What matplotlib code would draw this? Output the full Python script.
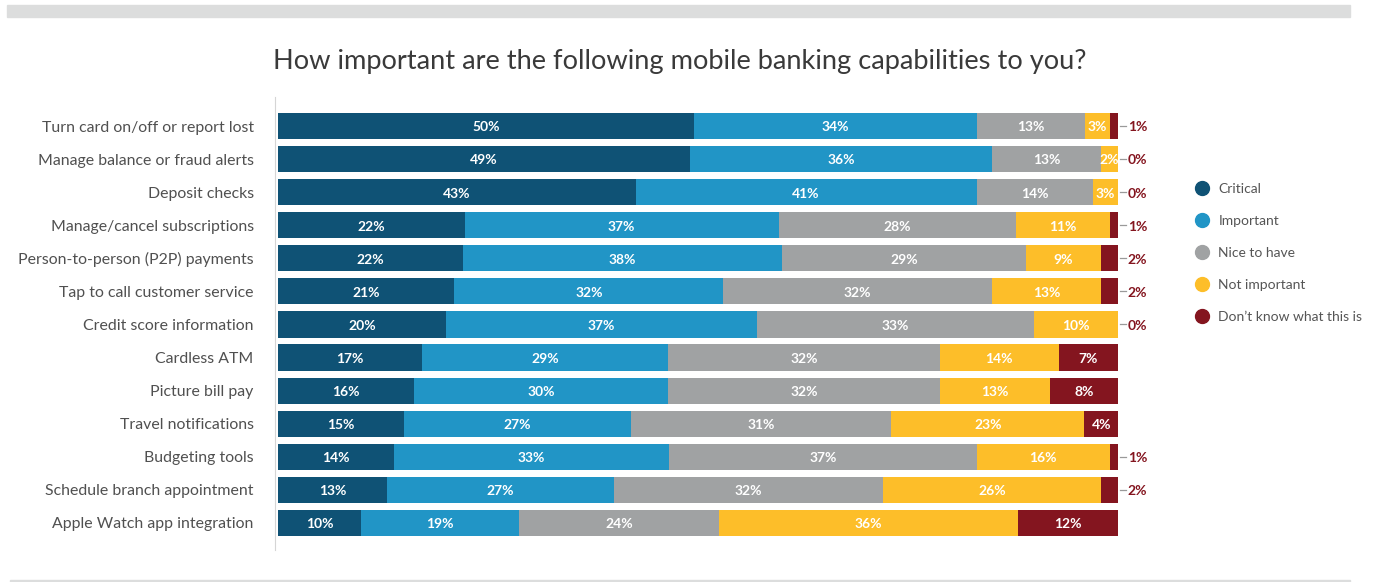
import matplotlib
matplotlib.use("Agg")
import matplotlib.pyplot as plt
from matplotlib.patches import Rectangle
from matplotlib.lines import Line2D
import numpy as np

features = [
    "Turn card on/off or report lost",
    "Manage balance or fraud alerts",
    "Deposit checks",
    "Manage/cancel subscriptions",
    "Person-to-person (P2P) payments",
    "Tap to call customer service",
    "Credit score information",
    "Cardless ATM",
    "Picture bill pay",
    "Travel notifications",
    "Budgeting tools",
    "Schedule branch appointment",
    "Apple Watch app integration",
]
critical      = [50, 49, 43, 22, 22, 21, 20, 17, 16, 15, 14, 13, 10]
important     = [34, 36, 41, 37, 38, 32, 37, 29, 30, 27, 33, 27, 19]
nice_to_have  = [13, 13, 14, 28, 29, 32, 33, 32, 32, 31, 37, 32, 24]
not_important = [3, 2, 3, 11, 9, 13, 10, 14, 13, 23, 16, 26, 36]
dont_know     = [1, 0, 0, 1, 2, 2, 0, 7, 8, 4, 1, 2, 12]

series_names = ["Critical", "Important", "Nice to have", "Not important",
                "Don\u2019t know what this is"]
colors = ["#0F5275", "#2195C6", "#A0A2A3", "#FDBE29", "#84151F"]

series = np.array([critical, important, nice_to_have, not_important, dont_know], dtype=float)
totals = series.sum(axis=0)
shares = series / totals * 100  # each row spans the full 100% width

W, H = 1379, 582
plt.rcParams["font.family"] = ["Lato", "DejaVu Sans"]
fig = plt.figure(figsize=(W / 100, H / 100), dpi=100)

# decorative rules at top and bottom
fig.patches.append(Rectangle((7 / W, 1 - 17 / H), (1350 - 7) / W, 12 / H,
                             transform=fig.transFigure, color="#DCDDDD", zorder=0))
fig.patches.append(Rectangle((10 / W, 1 - 582 / H), (1350 - 10) / W, 2 / H,
                             transform=fig.transFigure, color="#DCDDDD", zorder=0))

fig.text(680 / W, 1 - 62 / H,
         "How important are the following mobile banking capabilities to you?",
         ha="center", va="center", fontsize=19.6, color="#3a3a3a")

ax = fig.add_axes([278 / W, 1 - 550 / H, 840 / W, (550 - 97) / H])
y = np.arange(len(features))
left = np.zeros(len(features))
for k in range(len(series_names)):
    ax.barh(y, shares[k], left=left, height=0.79, color=colors[k],
            edgecolor="none", label=series_names[k])
    for i in range(len(features)):
        val = int(series[k, i])
        cx = left[i] + shares[k, i] / 2
        if k == len(series_names) - 1 and val <= 2:
            ax.plot([100.25, 100.95], [y[i], y[i]], color="#9a9a9a", lw=0.9,
                    clip_on=False)
            ax.text(101.15, y[i] + 0.04, f"{val}%", ha="left", va="center",
                    fontsize=10, fontweight="bold", color="#84151F")
        else:
            ax.text(cx, y[i] + 0.04, f"{val}%", ha="center", va="center",
                    fontsize=10, fontweight="bold", color="white")
    left += shares[k]

ax.set_xlim(0, 100)
ax.set_ylim(12.82, -0.88)
ax.set_yticks(y)
ax.set_yticklabels(features)
ax.tick_params(axis="y", length=0, pad=15.5, labelsize=11.45,
               labelcolor="#505050")
ax.set_xticks([])
for s in ["top", "right", "bottom"]:
    ax.spines[s].set_visible(False)
ax.spines["left"].set_color("#D5D5D5")
ax.spines["left"].set_position(("outward", 2))

handles = [Line2D([], [], marker="o", linestyle="none", markersize=10,
                  markerfacecolor=c, markeredgecolor=c) for c in colors]
fig.legend(handles, series_names, loc="upper left",
           bbox_to_anchor=(1181 / W, 1 - 170 / H), frameon=False,
           fontsize=10, labelcolor="#555555", handletextpad=0.6,
           labelspacing=1.45, handlelength=1.2)

fig.savefig("out.png", dpi=100)
